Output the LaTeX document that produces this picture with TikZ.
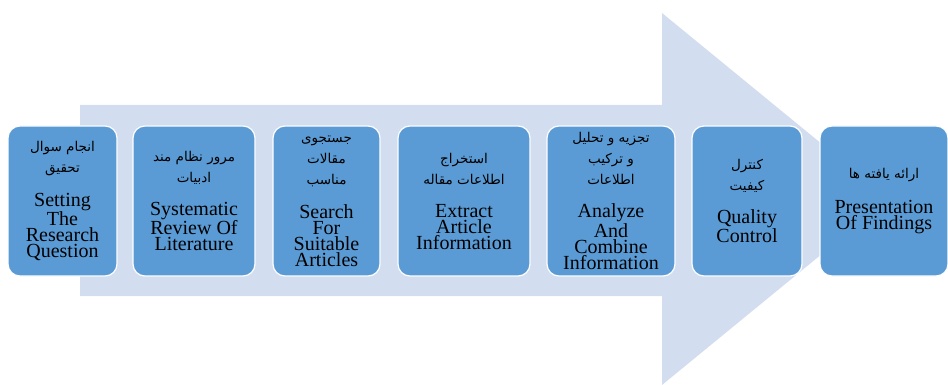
\documentclass[tikz,border=0pt]{standalone}
\usepackage{fontspec}
\setmainfont{Liberation Serif}
\newfontfamily\arabicfont[Script=Arabic]{DejaVu Sans}
\TeXXeTstate=1
\newcommand\fa[1]{{\arabicfont\fontsize{13.5}{16}\selectfont\beginR #1\endR}}
\definecolor{boxblue}{RGB}{91,155,213}
\definecolor{arrowbg}{RGB}{210,222,239}
\begin{document}
\begin{tikzpicture}[x=1pt,y=-1pt,
  stepbox/.style={draw=white, line width=1.2pt, fill=boxblue, rounded corners=12pt,
    minimum height=150pt, inner sep=0pt, align=center,
    font=\fontsize{20}{16}\selectfont, text=black}]
\useasboundingbox (0,0) rectangle (948,385);
\fill[arrowbg] (80,105) -- (662,105) -- (662,13) -- (889,199) -- (662,385) -- (662,296) -- (80,296) -- cycle;
\node[stepbox, minimum width=109pt] (s1) at (62.5,201)
  {\fa{انجام سوال}\\[5pt] \fa{تحقیق}\\[17pt] Setting\\ The\\ Research\\ Question};
\node[stepbox, minimum width=122pt] (s2) at (194,201)
  {\fa{مرور نظام مند}\\[5pt] \fa{ادبیات}\\[17pt] Systematic\\ Review Of\\ Literature};
\node[stepbox, minimum width=107pt] (s3) at (326.5,201)
  {\fa{جستجوی}\\[5pt] \fa{مقالات}\\[5pt] \fa{مناسب}\\[17pt] Search\\ For\\ Suitable\\ Articles};
\node[stepbox, minimum width=132pt] (s4) at (464,201)
  {\fa{استخراج}\\[5pt] \fa{اطلاعات مقاله}\\[17pt] Extract\\ Article\\ Information};
\node[stepbox, minimum width=128pt] (s5) at (611,201)
  {\fa{تجزیه و تحلیل}\\[5pt] \fa{و ترکیب}\\[5pt] \fa{اطلاعات}\\[17pt] Analyze\\ And\\ Combine\\ Information};
\node[stepbox, minimum width=110pt] (s6) at (747,201)
  {\fa{کنترل}\\[5pt] \fa{کیفیت}\\[17pt] Quality\\ Control};
\node[stepbox, minimum width=128pt] (s7) at (884,201)
  {\fa{ارائه یافته ها}\\[17pt] Presentation\\ Of Findings};
\end{tikzpicture}
\end{document}
